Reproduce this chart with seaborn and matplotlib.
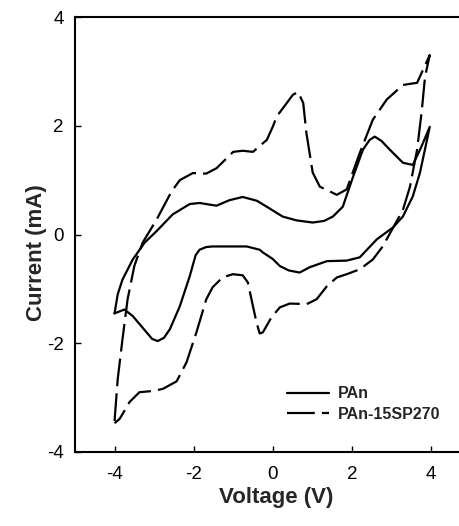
import matplotlib
matplotlib.use("Agg")
import matplotlib.pyplot as plt
import seaborn as sns
import pandas as pd

# ---- data ----
pan_v = [-4.0, -3.92, -3.8, -3.54, -3.24, -2.94, -2.53, -2.1, -1.85, -1.6, -1.42, -1.1, -0.76, -0.4,
         -0.15, 0.25, 0.6, 1.01, 1.3, 1.52, 1.77, 2.03, 2.28, 2.45, 2.58, 2.75, 2.96, 3.29, 3.54, 3.75, 3.97,
         3.9, 3.72, 3.54, 3.29, 3.04, 2.63, 2.2, 1.87, 1.37, 0.94, 0.68, 0.4, 0.18, 0.0, -0.25,
         -0.33, -0.66, -0.84, -1.3, -1.52, -1.68, -1.85, -1.95, -2.1, -2.35, -2.6, -2.75, -2.91, -3.05,
         -3.19, -3.54, -3.75, -4.0]
pan_i = [-1.45, -1.1, -0.83, -0.46, -0.15, 0.06, 0.37, 0.56, 0.58, 0.55, 0.53, 0.63, 0.69, 0.62,
         0.51, 0.33, 0.26, 0.22, 0.25, 0.33, 0.51, 1.06, 1.56, 1.74, 1.80, 1.72, 1.56, 1.32, 1.28, 1.6, 1.98,
         1.74, 1.13, 0.70, 0.33, 0.13, -0.09, -0.42, -0.48, -0.49, -0.6, -0.70, -0.66, -0.58, -0.45, -0.33,
         -0.28, -0.22, -0.22, -0.22, -0.22, -0.23, -0.28, -0.38, -0.77, -1.32, -1.74, -1.9, -1.96, -1.92,
         -1.8, -1.5, -1.38, -1.45]

sp_v = [-4.0, -3.92, -3.8, -3.67, -3.5, -3.29, -2.94, -2.56, -2.35, -2.02, -1.68, -1.42, -1.0,
        -0.76, -0.5, -0.15, 0.0, 0.1, 0.51, 0.64, 0.77, 0.85, 1.01, 1.19, 1.62, 1.87, 2.2, 2.53,
        2.88, 3.29, 3.65, 3.97,
        3.85, 3.77, 3.65, 3.47, 3.29, 3.1, 2.78, 2.53, 2.2, 1.87, 1.62, 1.37, 1.11, 0.86, 0.43,
        0.18, -0.03, -0.25, -0.33, -0.41, -0.5, -0.63, -0.76, -1.01, -1.27, -1.52, -1.68, -1.93,
        -2.18, -2.43, -2.78, -3.06, -3.37, -3.62, -3.87, -4.0]
sp_i = [-3.43, -2.66, -1.93, -1.19, -0.58, -0.15, 0.27, 0.79, 1.0, 1.13, 1.12, 1.22, 1.52,
        1.54, 1.52, 1.74, 1.98, 2.17, 2.57, 2.62, 2.42, 1.87, 1.14, 0.88, 0.73, 0.83, 1.50, 2.11,
        2.48, 2.75, 2.79, 3.30,
        2.9, 2.29, 1.56, 0.88, 0.45, 0.2, -0.22, -0.46, -0.64, -0.73, -0.79, -0.95, -1.19, -1.28, -1.27,
        -1.34, -1.52, -1.80, -1.82, -1.62, -1.32, -0.88, -0.75, -0.73, -0.79, -0.97, -1.19, -1.80,
        -2.35, -2.70, -2.84, -2.88, -2.90, -3.08, -3.39, -3.47]

series_names = ["PAn", "PAn-15SP270"]
x_ticks = [-4, -2, 0, 2, 4]
y_ticks = [-4, -2, 0, 2, 4]
x_label = "Voltage (V)"
y_label = "Current (mA)"

df = pd.concat([
    pd.DataFrame({"V": pan_v, "I": pan_i, "sample": series_names[0]}),
    pd.DataFrame({"V": sp_v, "I": sp_i, "sample": series_names[1]}),
], ignore_index=True)

sns.set_style("ticks")
plt.rcParams["font.family"] = ["Liberation Sans", "DejaVu Sans"]
plt.rcParams["axes.unicode_minus"] = False

fig = plt.figure(figsize=(4.6, 5.26), dpi=100)
ax = fig.add_axes([75 / 460, 74 / 526, 395.5 / 460, 435 / 526])

lw = 1.6
sns.lineplot(data=df, x="V", y="I", style="sample", units="sample", estimator=None,
             sort=False, color="black", linewidth=lw,
             dashes={series_names[0]: "", series_names[1]: (12.5, 3.2)},
             ax=ax, legend=True)
for ln in ax.lines:
    ln.set_solid_joinstyle("round")
    ln.set_dash_joinstyle("round")

ax.set_xlim(-5, 5)
ax.set_ylim(-4, 4)
ax.set_xticks(x_ticks)
ax.set_yticks(y_ticks)
ax.set_xticklabels([str(t) for t in x_ticks], fontsize=13.5)
ax.set_yticklabels([str(t) for t in y_ticks], fontsize=13.5)
ax.tick_params(direction="in", length=4, width=1, pad=8, colors="black")
ax.tick_params(axis="x", pad=10)
for s in ax.spines.values():
    s.set_linewidth(1.5)
    s.set_color("black")

ax.set_xlabel("")
ax.set_ylabel("")
fig.text(276 / 460, 1 - 497 / 526, x_label, fontsize=16, fontweight="bold", ha="center", va="center")
fig.text(37 / 460, 1 - 253 / 526, y_label, fontsize=16, fontweight="bold", ha="center", va="center", rotation=90)

handles, labels = ax.get_legend_handles_labels()
leg = ax.legend(handles=handles, labels=labels, loc="center left",
                bbox_to_anchor=(287 / 460, 1 - 404 / 526), bbox_transform=fig.transFigure,
                frameon=False, borderpad=0, borderaxespad=0, handlelength=2.6,
                handletextpad=0.6, labelspacing=0.35,
                prop={"size": 11.5, "weight": "bold", "family": ["Liberation Sans", "DejaVu Sans"]})
for h in leg.get_lines():
    h.set_linewidth(lw)

fig.savefig("out.png", dpi=100)
